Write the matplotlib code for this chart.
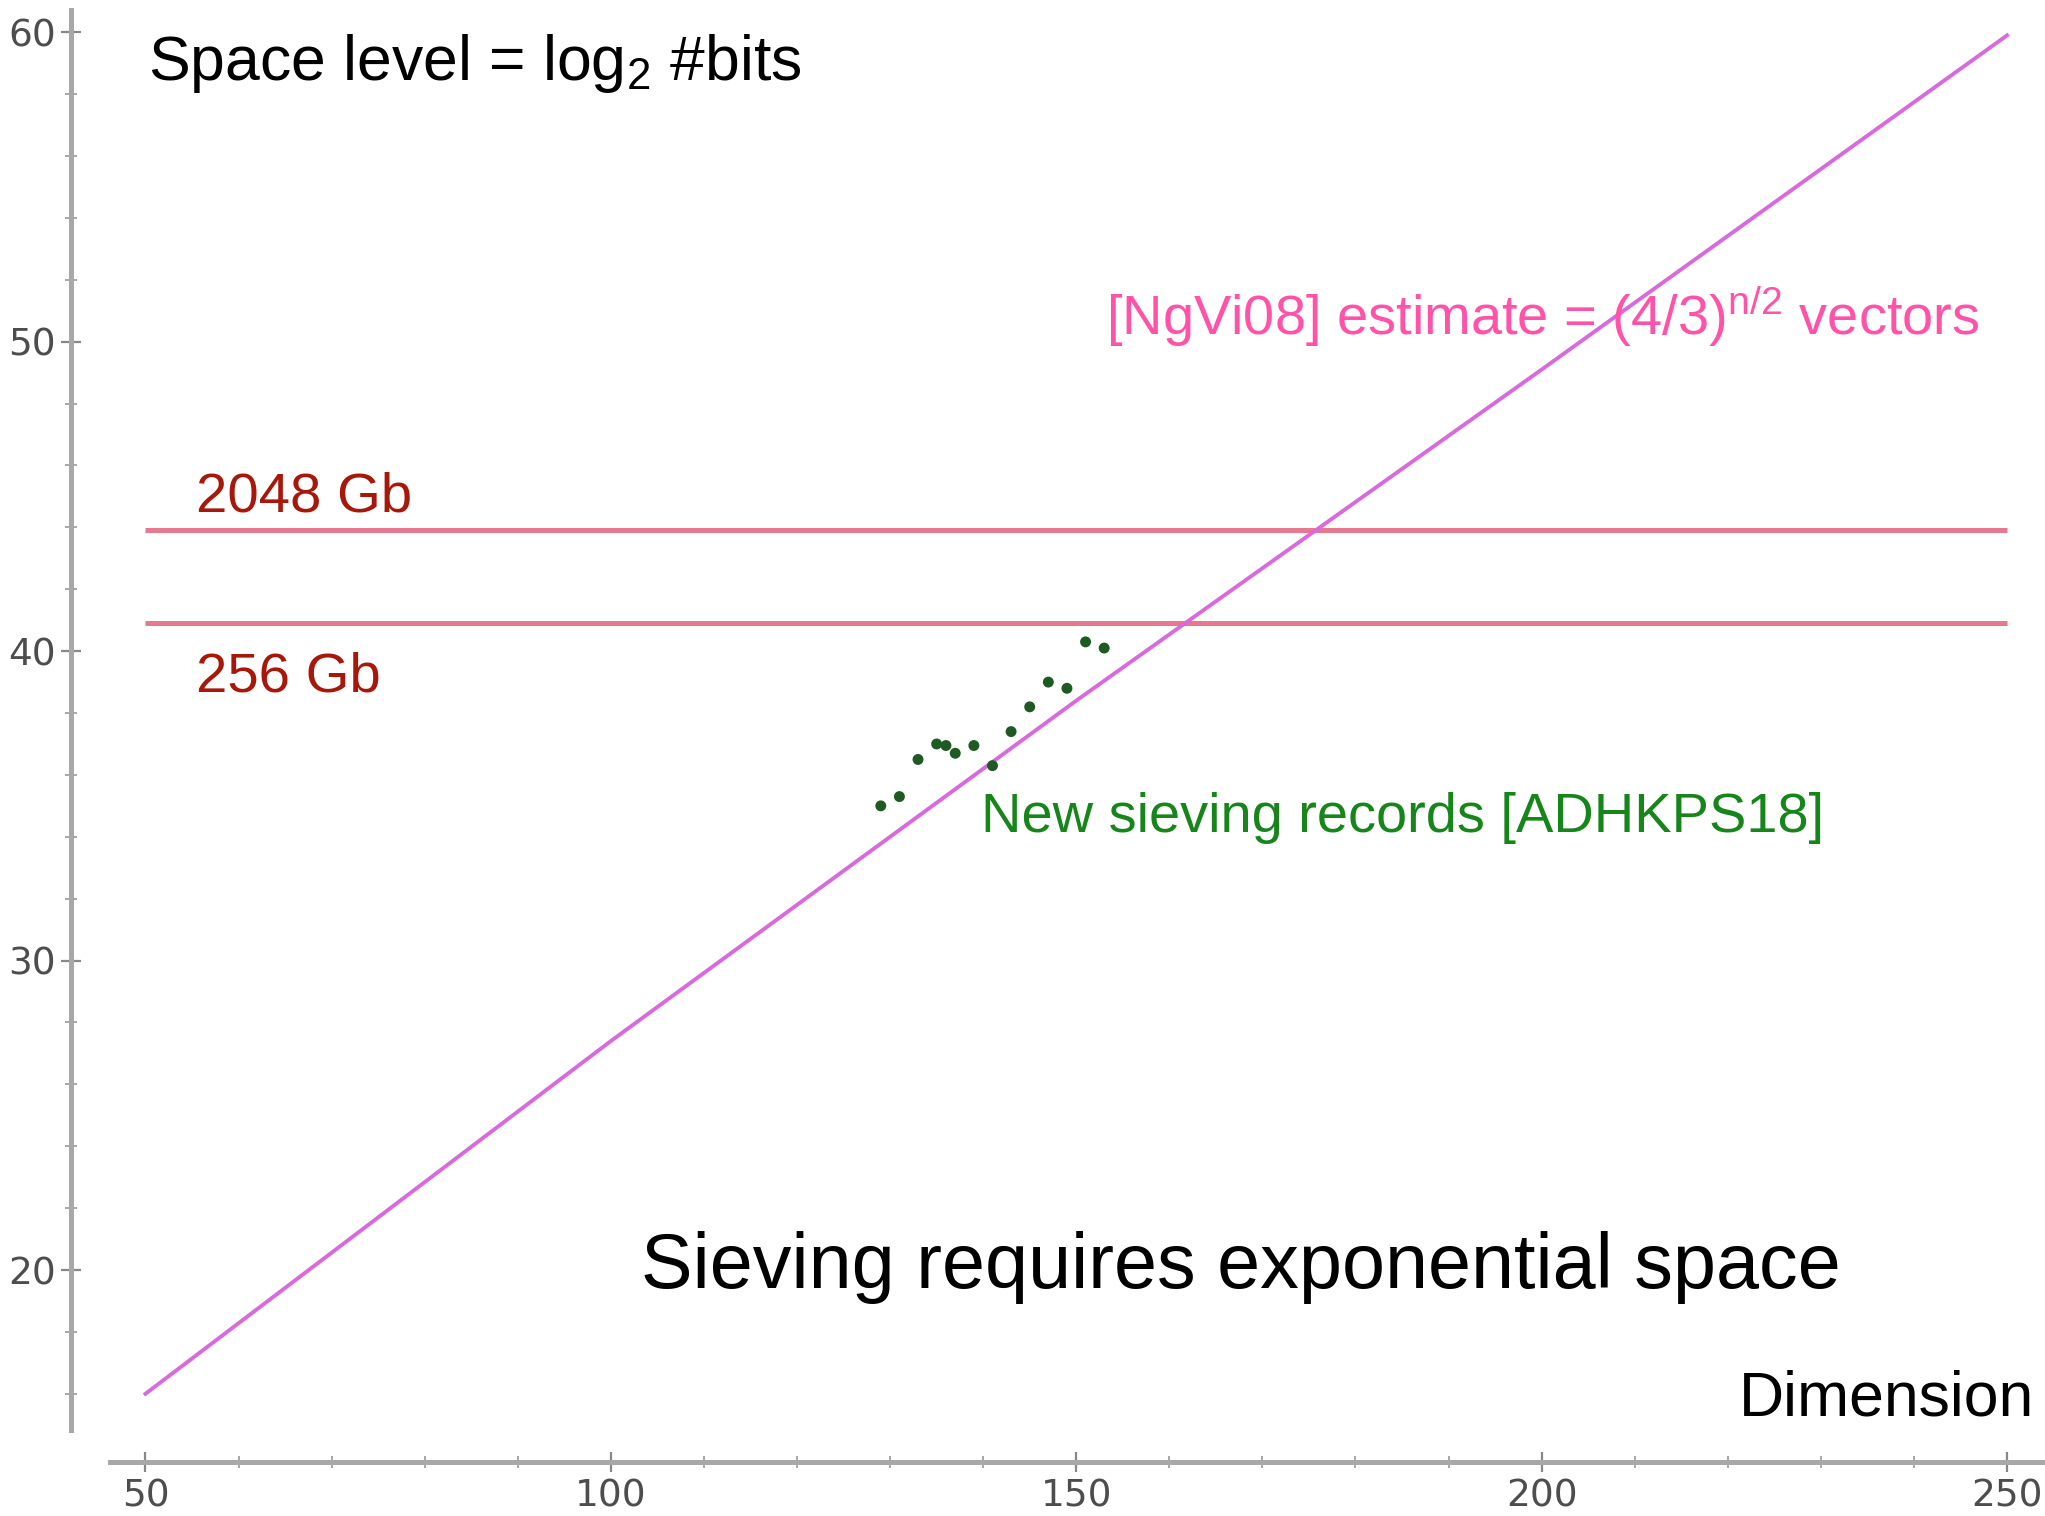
import matplotlib
matplotlib.use("Agg")
import matplotlib.pyplot as plt
from matplotlib.ticker import FixedLocator

plt.rcParams['mathtext.fontset'] = 'custom'
plt.rcParams['mathtext.rm'] = 'Liberation Sans'
plt.rcParams['mathtext.it'] = 'Liberation Sans'

# ---- data ----
estimate_dims = [50, 100, 150, 200, 250]
estimate_levels = [16.0, 27.4, 38.4, 49.1, 59.9]

record_dims = [129, 131, 133, 135, 136, 137, 139, 141, 143, 145, 147, 149, 151, 153]
record_levels = [35.0, 35.3, 36.5, 37.0, 36.95, 36.7, 36.95, 36.3, 37.4, 38.2, 39.0, 38.8, 40.3, 40.1]

memory_levels = [43.9, 40.9]
memory_labels = ["2048 Gb", "256 Gb"]
memory_span = [50, 250]

x_ticks = [50, 100, 150, 200, 250]
y_ticks = [20, 30, 40, 50, 60]
x_minor = [60, 70, 80, 90, 110, 120, 130, 140, 160, 170, 180, 190, 210, 220, 230, 240]
y_minor = [16, 18, 22, 24, 26, 28, 32, 34, 36, 38, 42, 44, 46, 48, 52, 54, 56, 58]

W, H, DPI = 2045, 1516, 100
fig = plt.figure(figsize=(W / DPI, H / DPI), dpi=DPI)
ax = fig.add_axes([0, 0, 1, 1])
ax.set_xlim(34.37, 254.08)
ax.set_ylim(12.05, 61.044)
ax.patch.set_alpha(0)

spine_col = '#a8a8a8'
ax.spines['top'].set_visible(False)
ax.spines['right'].set_visible(False)
ax.spines['left'].set_position(('data', 42.04))
ax.spines['left'].set_bounds(14.83, 60.72)
ax.spines['bottom'].set_position(('data', 13.79))
ax.spines['bottom'].set_bounds(46.19, 254.08)
for s in ('left', 'bottom'):
    ax.spines[s].set_color(spine_col)
    ax.spines[s].set_linewidth(3.6)

ax.xaxis.set_major_locator(FixedLocator(x_ticks))
ax.yaxis.set_major_locator(FixedLocator(y_ticks))
ax.xaxis.set_minor_locator(FixedLocator(x_minor))
ax.yaxis.set_minor_locator(FixedLocator(y_minor))
ax.tick_params(axis='both', which='major', direction='inout', length=14, width=1.6,
               color='#888888', labelsize=27, labelcolor='#4d4d4d')
ax.tick_params(axis='both', which='minor', direction='inout', length=8, width=1.2,
               color='#999999')
ax.tick_params(axis='x', which='major', pad=5)
ax.tick_params(axis='y', which='major', pad=4)

# horizontal memory limits
for lvl in memory_levels:
    ax.plot(memory_span, [lvl, lvl], color='#e87890', lw=3.6, solid_capstyle='butt', zorder=2)

# estimate line
ax.plot(estimate_dims, estimate_levels, color='#d96ade', lw=2.8, zorder=3)

# records
ax.scatter(record_dims, record_levels, s=62, color='#1f5a24', edgecolors='none', zorder=4)

font = 'Liberation Sans'
def px(xp, yp):
    return xp / W, 1 - yp / H

fig.text(*px(148, 80), r"Space level = log$_{2}$ #bits", fontsize=45, family=font,
         color='black', ha='left', va='baseline')
fig.text(*px(1106, 317), r"[NgVi08] estimate = (4/3)$^{\mathrm{n/2}}$ vectors", fontsize=40.3,
         family=font, color='#ff52a8', ha='left', va='center')
fig.text(*px(196, 511), memory_labels[0], fontsize=40.5, family=font, color='#a8180a',
         ha='left', va='baseline')
fig.text(*px(196, 691), memory_labels[1], fontsize=40.5, family=font, color='#a8180a',
         ha='left', va='baseline')
fig.text(*px(981, 818), "New sieving records [ADHKPS18]", fontsize=40.3, family=font,
         color='#16861a', ha='left', va='center')
fig.text(*px(641, 1288), "Sieving requires exponential space", fontsize=55.7, family=font,
         color='black', ha='left', va='baseline')
fig.text(*px(2034, 1399), "Dimension", fontsize=45, family=font, color='black',
         ha='right', va='center')

fig.savefig('out.png', dpi=DPI)
